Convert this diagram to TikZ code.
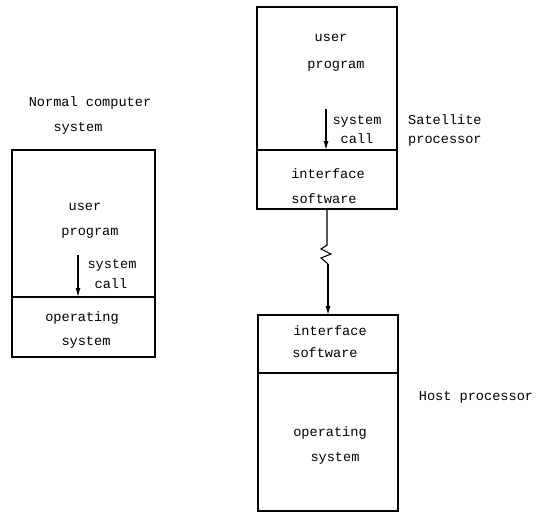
\documentclass[tikz,border=0pt]{standalone}
\usepackage{fontspec}
\setmainfont{Liberation Mono}
\usepackage{tikz}
\usetikzlibrary{arrows.meta, positioning}

\begin{document}
\begin{tikzpicture}[
      x=1pt, y=-1pt,
      box/.style={draw, line width=1.1pt, inner sep=0pt, outer sep=0pt},
      lbl/.style={font=\fontsize{13.6}{16}\selectfont, inner sep=0pt, text height=1.6ex, text depth=0.2ex},
      line/.style={line width=1.1pt},
      arr/.style={-{Latex[length=9pt, width=5pt]}, line width=1.1pt}
    ]
    \useasboundingbox (0,0) rectangle (541,512);
    % normal computer
    \node[box, minimum width=143pt, minimum height=147pt] (userL) at (83.5,223.5) {};
    \node[box, minimum width=143pt, minimum height=60pt, below=0pt of userL] (osL) {};
    \node[lbl] (normal) at (90,103) {Normal computer};
    \node[lbl] (normal2) at (78,128) {system};
    \node[lbl] (progL1) at (85,207) {user};
    \node[lbl] (progL2) at (90,232) {program};
    \node[lbl] (callL1) at (112,265) {system};
    \node[lbl] (callL2) at (111,285) {call};
    \node[lbl] (osL1) at (82,318) {operating};
    \node[lbl] (osL2) at (86,342) {system};
    \coordinate (cL) at (78,255);
    \draw[arr] (cL) -- (cL |- userL.south);
    % satellite
    \node[box, minimum width=140pt, minimum height=143pt] (userS) at (327,78.5) {};
    \node[box, minimum width=140pt, minimum height=59pt, below=0pt of userS] (ifS) {};
    \node[lbl] (progS1) at (331,38) {user};
    \node[lbl] (progS2) at (336,65) {program};
    \node[lbl] (callS1) at (357,121) {system};
    \node[lbl] (callS2) at (357,140) {call};
    \node[lbl, anchor=west] (sat1) at (408,121) {Satellite};
    \node[lbl, anchor=west] (sat2) at (408,140) {processor};
    \node[lbl] (ifS1) at (328,175) {interface};
    \node[lbl] (ifS2) at (324,200) {software};
    \coordinate (cS) at (326,109);
    \draw[arr] (cS) -- (cS |- userS.south);
    % host
    \node[box, minimum width=140pt, minimum height=58pt] (ifH) at (328,344) {};
    \node[box, minimum width=140pt, minimum height=138pt, below=0pt of ifH] (osH) {};
    \node[lbl] (ifH1) at (330,332) {interface};
    \node[lbl] (ifH2) at (325,354) {software};
    \node[lbl] (host) at (476,397) {Host processor};
    \node[lbl] (osH1) at (330,433) {operating};
    \node[lbl] (osH2) at (335,458) {system};
    % link
    \draw[line] (ifS.south) -- ++(0,36) -- ++(-6,4) -- ++(10,5) -- ++(-10,4) -- ++(7,6) coordinate (zz);
    \draw[arr] (zz) -- (zz |- ifH.north);
  \end{tikzpicture}
\end{document}
